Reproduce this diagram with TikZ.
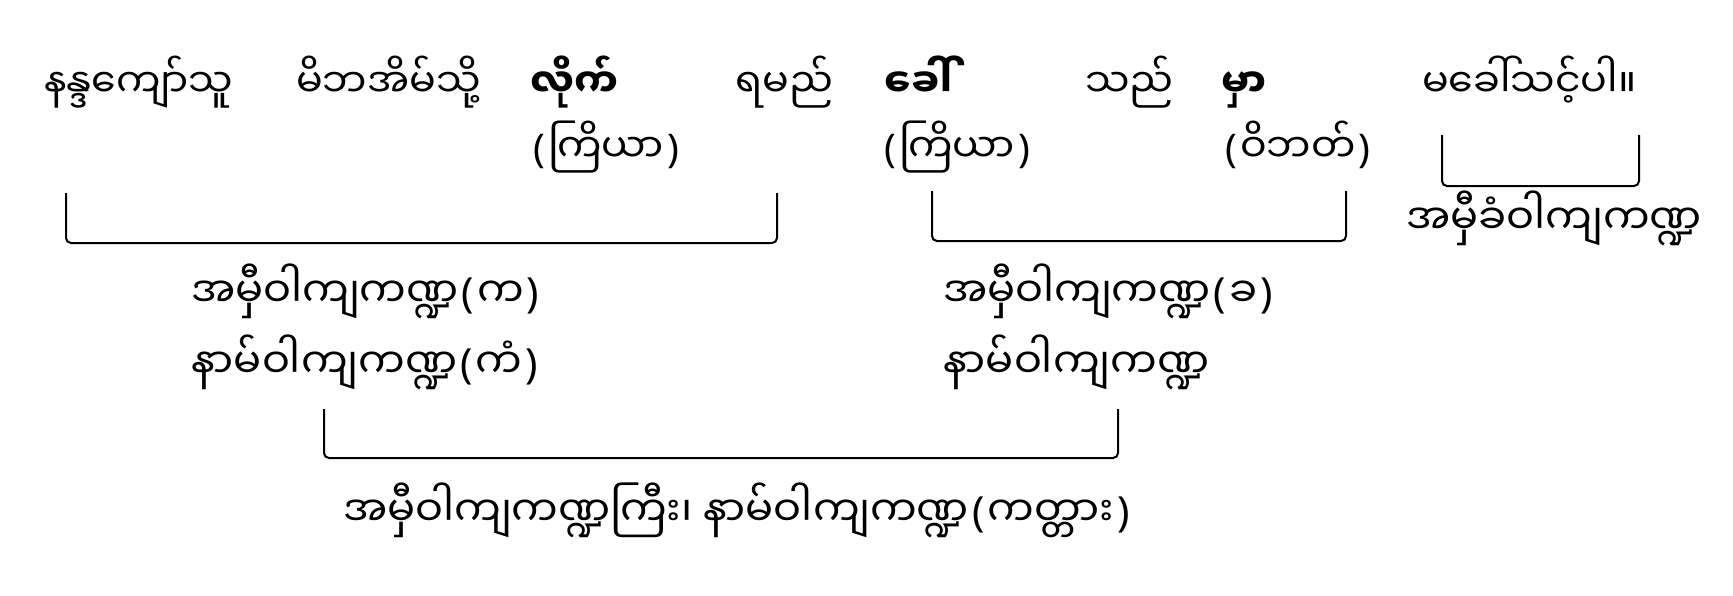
\documentclass[tikz,border=0pt]{standalone}
\usepackage{fontspec}
\newfontfamily\my[Script=Myanmar]{Noto Sans Myanmar UI}
\newfontfamily\lat{Noto Sans}
\newcommand\lpar{{\kern3pt\lat(\kern3pt}}
\newcommand\rpar{{\kern3pt\lat)\kern3pt}}
\begin{document}
\begin{tikzpicture}[x=1pt,y=-1pt,
  txt/.style={inner sep=0pt,anchor=base west,font=\my\fontsize{39.5}{46}\selectfont},
  lbl/.style={inner sep=0pt,anchor=base west,font=\my\fontsize{41.5}{48}\selectfont},
  bold/.style={txt,font=\my\bfseries\fontsize{39.5}{46}\selectfont},
  brk/.style={line width=2pt,rounded corners=5pt}]
\useasboundingbox (0,0) rectangle (1733,595);
% row 1
\node[txt]  (w1) at (44,97)  {နန္ဒကျော်သူ};
\node[txt]  (w2) at (296,97) {မိဘအိမ်သို့};
\node[bold] (w3) at (530,97) {လိုက်};
\node[txt]  (w4) at (735,97) {ရမည်};
\node[bold] (w5) at (884,97) {ခေါ်};
\node[txt]  (w6) at (1085,97) {သည်};
\node[bold] (w7) at (1221,97) {မှာ};
\node[txt]  (w8) at (1422,97) {မခေါ်သင့်ပါ။};
% row 2
\node[txt] (p1) at (530,162) {\lpar ကြိယာ\rpar};
\node[txt] (p2) at (881,162) {\lpar ကြိယာ\rpar};
\node[txt] (p3) at (1222,162) {\lpar ဝိဘတ်\rpar};
% labels
\node[lbl] (l1) at (191,307) {အမှီဝါကျကဏ္ဍ\lpar က\rpar};
\node[lbl] (l2) at (191,378) {နာမ်ဝါကျကဏ္ဍ\lpar ကံ\rpar};
\node[lbl] (l3) at (943,307) {အမှီဝါကျကဏ္ဍ\lpar ခ\rpar};
\node[lbl] (l4) at (943,378) {နာမ်ဝါကျကဏ္ဍ};
\node[lbl] (l5) at (1406,234) {အမှီခံဝါကျကဏ္ဍ};
\node[lbl] (l6) at (343,526) {အမှီဝါကျကဏ္ဍကြီး၊ နာမ်ဝါကျကဏ္ဍ\lpar ကတ္တား\rpar};
% brackets
\coordinate (b1a) at (66,193);  \coordinate (b1b) at (777,243);
\coordinate (b2a) at (932,191); \coordinate (b2b) at (1346,241);
\coordinate (b3a) at (1442,135); \coordinate (b3b) at (1639,186);
\coordinate (b4a) at (324,409); \coordinate (b4b) at (1118,458);
\draw[brk] (b1a) -- (b1a|-b1b) -- (b1b) -- (b1b|-b1a);
\draw[brk] (b2a) -- (b2a|-b2b) -- (b2b) -- (b2b|-b2a);
\draw[brk] (b3a) -- (b3a|-b3b) -- (b3b) -- (b3b|-b3a);
\draw[brk] (b4a) -- (b4a|-b4b) -- (b4b) -- (b4b|-b4a);
\end{tikzpicture}
\end{document}
